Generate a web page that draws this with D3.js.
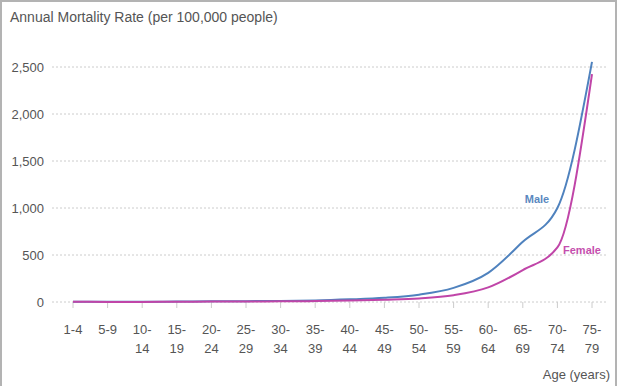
<!DOCTYPE html>
<html>
<head>
<meta charset="utf-8">
<script src="https://cdn.jsdelivr.net/npm/d3@7"></script>
<style>
  body { margin: 0; background: #fff; }
  svg { display: block; font-family: "Liberation Sans", Arial, sans-serif; }
</style>
</head>
<body>
<div id="chart"></div>
<script>
const ageGroups = ['1-4', '5-9', '10-14', '15-19', '20-24', '25-29', '30-34', '35-39',
  '40-44', '45-49', '50-54', '55-59', '60-64', '65-69', '70-74', '75-79'];
const maleRates = [3, 2, 2, 5, 8, 9, 11, 16, 28, 45, 78, 150, 310, 640, 1000, 2555];
const femaleRates = [2, 1, 1, 3, 4, 5, 7, 10, 16, 25, 38, 72, 155, 340, 580, 2425];
const yTicks = [0, 500, 1000, 1500, 2000, 2500];

const width = 618, height = 386;
const margin = { top: 67, right: 26, bottom: 84, left: 73 };

const svg = d3.select('#chart').append('svg')
  .attr('width', width)
  .attr('height', height);

// frame
svg.append('path')
  .attr('d', `M1,${height} V1 H${width - 2} V${height}`)
  .attr('fill', 'none')
  .attr('stroke', '#b3b3b3')
  .attr('stroke-width', 2);

const x = d3.scalePoint()
  .domain(ageGroups)
  .range([margin.left, width - margin.right]);

const y = d3.scaleLinear()
  .domain([0, 2500])
  .range([height - margin.bottom, margin.top]);

// gridlines
svg.append('g')
  .selectAll('line')
  .data(yTicks)
  .enter().append('line')
    .attr('x1', 52)
    .attr('x2', 606)
    .attr('y1', d => y(d))
    .attr('y2', d => y(d))
    .attr('stroke', '#ccc')
    .attr('stroke-dasharray', '2,2');

// y labels
svg.append('g')
  .selectAll('text')
  .data(yTicks)
  .enter().append('text')
    .attr('x', 44)
    .attr('y', d => y(d))
    .attr('dy', '0.35em')
    .attr('text-anchor', 'end')
    .style('font-size', '13px')
    .style('fill', '#555')
    .text(d => d3.format(',')(d));

// x ticks
const xg = svg.append('g');
xg.selectAll('line')
  .data(ageGroups)
  .enter().append('line')
    .attr('x1', d => x(d))
    .attr('x2', d => x(d))
    .attr('y1', y(0))
    .attr('y2', y(0) + 6)
    .attr('stroke', '#ccc');

xg.selectAll('text')
  .data(ageGroups)
  .enter().append('text')
    .attr('text-anchor', 'middle')
    .style('font-size', '13px')
    .style('fill', '#555')
    .each(function(d) {
      const parts = d.length > 3 ? [d.split('-')[0] + '-', d.split('-')[1]] : [d];
      d3.select(this).selectAll('tspan')
        .data(parts)
        .enter().append('tspan')
          .attr('x', x(d))
          .attr('y', (p, i) => 334 + i * 19)
          .text(p => p);
    });

svg.append('text')
  .attr('x', 610)
  .attr('y', 379)
  .attr('text-anchor', 'end')
  .style('font-size', '13px')
  .style('fill', '#555')
  .text('Age (years)');

svg.append('text')
  .attr('x', 10)
  .attr('y', 22)
  .style('font-size', '14px')
  .style('fill', '#555')
  .text('Annual Mortality Rate (per 100,000 people)');

const line = d3.line()
  .x((d, i) => x(ageGroups[i]))
  .y(d => y(d))
  .curve(d3.curveMonotoneX);

svg.append('path')
  .datum(maleRates)
  .attr('d', line)
  .attr('fill', 'none')
  .attr('stroke', '#4f82be')
  .attr('stroke-width', 2);

svg.append('path')
  .datum(femaleRates)
  .attr('d', line)
  .attr('fill', 'none')
  .attr('stroke', '#c045a8')
  .attr('stroke-width', 2);

svg.append('text')
  .attr('x', 537)
  .attr('y', 203)
  .attr('text-anchor', 'middle')
  .style('font-size', '11px')
  .style('font-weight', 'bold')
  .style('fill', '#5a88c0')
  .text('Male');

svg.append('text')
  .attr('x', 582)
  .attr('y', 254)
  .attr('text-anchor', 'middle')
  .style('font-size', '11px')
  .style('font-weight', 'bold')
  .style('fill', '#c54fae')
  .text('Female');
</script>
</body>
</html>
